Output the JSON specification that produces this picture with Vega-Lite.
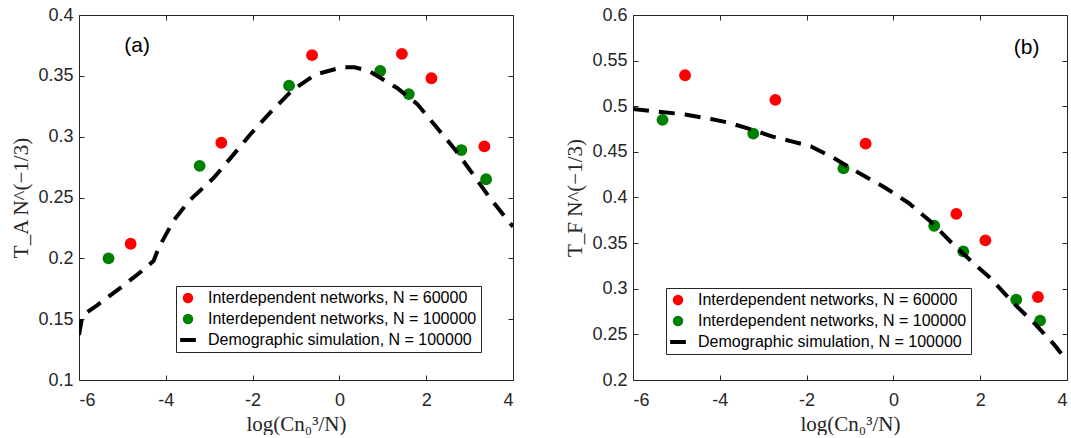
{
  "$schema": "https://vega.github.io/schema/vega-lite/v6.json",
  "padding": {"left": 10, "top": 5, "right": 0, "bottom": 0},
  "background": "white",
  "config": {
    "view": {"stroke": "#262626", "strokeWidth": 1},
    "axis": {"grid": false, "domain": false, "tickColor": "#262626", "tickSize": -5, "tickWidth": 1,
      "labelFont": "Liberation Sans", "labelFontSize": 18, "labelColor": "#262626",
      "titleFont": "Liberation Serif", "titleFontSize": 21, "titleFontWeight": "normal", "titleColor": "#262626"},
    "axisX": {"labelPadding": 16, "titlePadding": 4},
    "axisY": {"labelPadding": 11, "titlePadding": 6},
    "legend": {"labelLimit": 0}
  },
  "datasets": {
    "a_pts": [
      {"x": -4.81, "y": 0.212, "series": "Interdependent networks, N = 60000"},
      {"x": -2.72, "y": 0.295, "series": "Interdependent networks, N = 60000"},
      {"x": -0.63, "y": 0.367, "series": "Interdependent networks, N = 60000"},
      {"x": 1.44, "y": 0.368, "series": "Interdependent networks, N = 60000"},
      {"x": 2.12, "y": 0.348, "series": "Interdependent networks, N = 60000"},
      {"x": 3.34, "y": 0.292, "series": "Interdependent networks, N = 60000"},
      {"x": -5.32, "y": 0.200, "series": "Interdependent networks, N = 100000"},
      {"x": -3.22, "y": 0.276, "series": "Interdependent networks, N = 100000"},
      {"x": -1.16, "y": 0.342, "series": "Interdependent networks, N = 100000"},
      {"x": 0.94, "y": 0.354, "series": "Interdependent networks, N = 100000"},
      {"x": 1.60, "y": 0.335, "series": "Interdependent networks, N = 100000"},
      {"x": 2.81, "y": 0.289, "series": "Interdependent networks, N = 100000"},
      {"x": 3.38, "y": 0.265, "series": "Interdependent networks, N = 100000"}
    ],
    "a_line": [
      {"x": -6.0, "y": 0.137}, {"x": -5.92, "y": 0.153}, {"x": -5.6, "y": 0.161}, {"x": -5.0, "y": 0.177},
      {"x": -4.5, "y": 0.191}, {"x": -4.28, "y": 0.198}, {"x": -4.16, "y": 0.209}, {"x": -3.82, "y": 0.231},
      {"x": -3.47, "y": 0.247}, {"x": -2.90, "y": 0.266}, {"x": -2.47, "y": 0.284}, {"x": -2.05, "y": 0.302},
      {"x": -1.59, "y": 0.320}, {"x": -1.09, "y": 0.338}, {"x": -0.56, "y": 0.351}, {"x": 0.06, "y": 0.357},
      {"x": 0.35, "y": 0.357}, {"x": 0.68, "y": 0.354}, {"x": 1.33, "y": 0.340}, {"x": 1.79, "y": 0.327},
      {"x": 2.21, "y": 0.309}, {"x": 2.63, "y": 0.291}, {"x": 3.06, "y": 0.270}, {"x": 3.44, "y": 0.251},
      {"x": 3.86, "y": 0.232}, {"x": 4.0, "y": 0.226}
    ],
    "a_lab": [{"x": -4.66, "y": 0.3745, "label": "(a)"}],
    "b_pts": [
      {"x": -4.80, "y": 0.534, "series": "Interdependent networks, N = 60000"},
      {"x": -2.72, "y": 0.507, "series": "Interdependent networks, N = 60000"},
      {"x": -0.64, "y": 0.459, "series": "Interdependent networks, N = 60000"},
      {"x": 1.45, "y": 0.382, "series": "Interdependent networks, N = 60000"},
      {"x": 2.12, "y": 0.353, "series": "Interdependent networks, N = 60000"},
      {"x": 3.33, "y": 0.291, "series": "Interdependent networks, N = 60000"},
      {"x": -5.32, "y": 0.485, "series": "Interdependent networks, N = 100000"},
      {"x": -3.23, "y": 0.470, "series": "Interdependent networks, N = 100000"},
      {"x": -1.15, "y": 0.432, "series": "Interdependent networks, N = 100000"},
      {"x": 0.94, "y": 0.369, "series": "Interdependent networks, N = 100000"},
      {"x": 1.61, "y": 0.341, "series": "Interdependent networks, N = 100000"},
      {"x": 2.83, "y": 0.288, "series": "Interdependent networks, N = 100000"},
      {"x": 3.38, "y": 0.265, "series": "Interdependent networks, N = 100000"}
    ],
    "b_line": [
      {"x": -6.0, "y": 0.497}, {"x": -5.4, "y": 0.494}, {"x": -4.8, "y": 0.491}, {"x": -4.2, "y": 0.486},
      {"x": -3.8, "y": 0.482}, {"x": -3.3, "y": 0.475}, {"x": -2.8, "y": 0.467}, {"x": -2.3, "y": 0.461},
      {"x": -1.9, "y": 0.456}, {"x": -1.4, "y": 0.444}, {"x": -0.8, "y": 0.427}, {"x": -0.2, "y": 0.411},
      {"x": 0.35, "y": 0.394}, {"x": 0.85, "y": 0.374}, {"x": 1.35, "y": 0.350}, {"x": 1.8, "y": 0.330},
      {"x": 2.25, "y": 0.311}, {"x": 2.75, "y": 0.285}, {"x": 3.25, "y": 0.262}, {"x": 3.7, "y": 0.239},
      {"x": 3.95, "y": 0.224}
    ],
    "b_lab": [{"x": 3.07, "y": 0.564, "label": "(b)"}]
  },
  "hconcat": [
    {
      "width": 434, "height": 365,
      "layer": [
        {
          "data": {"name": "a_pts"},
          "mark": {"type": "point", "filled": true, "opacity": 1, "size": 140},
          "encoding": {
            "x": {"field": "x", "type": "quantitative", "scale": {"domain": [-6, 4], "nice": false, "zero": false},
              "axis": {"values": [-6, -4, -2, 0, 2, 4], "labelExpr": "'' + datum.value", "title": "log(Cn₀³/N)"}},
            "y": {"field": "y", "type": "quantitative", "scale": {"domain": [0.1, 0.4], "nice": false, "zero": false},
              "axis": {"values": [0.1, 0.15, 0.2, 0.25, 0.3, 0.35, 0.4], "format": ".2~f", "title": "T_A N^(−1/3)"}},
            "color": {"field": "series", "type": "nominal",
              "scale": {"domain": ["Interdependent networks, N = 60000", "Interdependent networks, N = 100000", "Demographic simulation, N = 100000"], "range": ["#ff0000", "#008000", "#000000"]},
              "legend": {"orient": "none", "legendX": 97, "legendY": 271, "title": null, "strokeColor": "#262626", "fillColor": "white", "padding": 4, "rowPadding": 5, "labelFont": "Liberation Sans", "labelFontSize": 16, "labelColor": "#000000", "labelLimit": 0, "symbolSize": 110, "labelOffset": 12, "symbolStrokeWidth": 0, "symbolOpacity": 1}},
            "shape": {"field": "series", "type": "nominal",
              "scale": {"domain": ["Interdependent networks, N = 60000", "Interdependent networks, N = 100000", "Demographic simulation, N = 100000"], "range": ["circle", "circle", "M-1.5,-0.38H1.5V0.38H-1.5Z"]},
              "legend": {"orient": "none", "legendX": 97, "legendY": 271, "title": null, "strokeColor": "#262626", "fillColor": "white", "padding": 4, "rowPadding": 5, "labelFont": "Liberation Sans", "labelFontSize": 16, "labelColor": "#000000", "labelLimit": 0, "symbolSize": 110, "labelOffset": 12, "symbolStrokeWidth": 0, "symbolOpacity": 1}}
          }
        },
        {
          "data": {"name": "a_line"},
          "mark": {"type": "line", "color": "#000000", "strokeWidth": 4, "strokeDash": [16, 10], "strokeCap": "butt", "clip": true},
          "encoding": {
            "x": {"field": "x", "type": "quantitative", "scale": {"domain": [-6, 4], "nice": false, "zero": false},
              "axis": {"orient": "top", "values": [-6, -4, -2, 0, 2, 4], "labels": false, "title": null}},
            "y": {"field": "y", "type": "quantitative", "scale": {"domain": [0.1, 0.4], "nice": false, "zero": false},
              "axis": {"orient": "right", "values": [0.1, 0.15, 0.2, 0.25, 0.3, 0.35, 0.4], "labels": false, "title": null}}
          }
        },
        {
          "data": {"name": "a_lab"},
          "mark": {"type": "text", "font": "Liberation Sans", "fontSize": 21, "color": "#000000", "align": "center", "baseline": "middle"},
          "encoding": {
            "x": {"field": "x", "type": "quantitative", "axis": null},
            "y": {"field": "y", "type": "quantitative", "axis": null},
            "text": {"field": "label"}
          }
        }
      ],
      "resolve": {"axis": {"x": "independent", "y": "independent"}}
    },
    {
      "width": 434, "height": 365,
      "layer": [
        {
          "data": {"name": "b_pts"},
          "mark": {"type": "point", "filled": true, "opacity": 1, "size": 140},
          "encoding": {
            "x": {"field": "x", "type": "quantitative", "scale": {"domain": [-6, 4], "nice": false, "zero": false},
              "axis": {"values": [-6, -4, -2, 0, 2, 4], "labelExpr": "'' + datum.value", "title": "log(Cn₀³/N)"}},
            "y": {"field": "y", "type": "quantitative", "scale": {"domain": [0.2, 0.6], "nice": false, "zero": false},
              "axis": {"values": [0.2, 0.25, 0.3, 0.35, 0.4, 0.45, 0.5, 0.55, 0.6], "format": ".2~f", "title": "T_F N^(−1/3)"}},
            "color": {"field": "series", "type": "nominal",
              "scale": {"domain": ["Interdependent networks, N = 60000", "Interdependent networks, N = 100000", "Demographic simulation, N = 100000"], "range": ["#ff0000", "#008000", "#000000"]},
              "legend": {"orient": "none", "legendX": 33, "legendY": 273, "title": null, "strokeColor": "#262626", "fillColor": "white", "padding": 4, "rowPadding": 5, "labelFont": "Liberation Sans", "labelFontSize": 16, "labelColor": "#000000", "labelLimit": 0, "symbolSize": 110, "labelOffset": 12, "symbolStrokeWidth": 0, "symbolOpacity": 1}},
            "shape": {"field": "series", "type": "nominal",
              "scale": {"domain": ["Interdependent networks, N = 60000", "Interdependent networks, N = 100000", "Demographic simulation, N = 100000"], "range": ["circle", "circle", "M-1.5,-0.38H1.5V0.38H-1.5Z"]},
              "legend": {"orient": "none", "legendX": 33, "legendY": 273, "title": null, "strokeColor": "#262626", "fillColor": "white", "padding": 4, "rowPadding": 5, "labelFont": "Liberation Sans", "labelFontSize": 16, "labelColor": "#000000", "labelLimit": 0, "symbolSize": 110, "labelOffset": 12, "symbolStrokeWidth": 0, "symbolOpacity": 1}}
          }
        },
        {
          "data": {"name": "b_line"},
          "mark": {"type": "line", "color": "#000000", "strokeWidth": 4, "strokeDash": [16, 10], "strokeCap": "butt", "clip": true},
          "encoding": {
            "x": {"field": "x", "type": "quantitative", "scale": {"domain": [-6, 4], "nice": false, "zero": false},
              "axis": {"orient": "top", "values": [-6, -4, -2, 0, 2, 4], "labels": false, "title": null}},
            "y": {"field": "y", "type": "quantitative", "scale": {"domain": [0.2, 0.6], "nice": false, "zero": false},
              "axis": {"orient": "right", "values": [0.2, 0.25, 0.3, 0.35, 0.4, 0.45, 0.5, 0.55, 0.6], "labels": false, "title": null}}
          }
        },
        {
          "data": {"name": "b_lab"},
          "mark": {"type": "text", "font": "Liberation Sans", "fontSize": 21, "color": "#000000", "align": "center", "baseline": "middle"},
          "encoding": {
            "x": {"field": "x", "type": "quantitative", "axis": null},
            "y": {"field": "y", "type": "quantitative", "axis": null},
            "text": {"field": "label"}
          }
        }
      ],
      "resolve": {"axis": {"x": "independent", "y": "independent"}}
    }
  ],
  "spacing": 120,
  "bounds": "flush",
  "resolve": {"scale": {"color": "independent", "shape": "independent"}}
}
